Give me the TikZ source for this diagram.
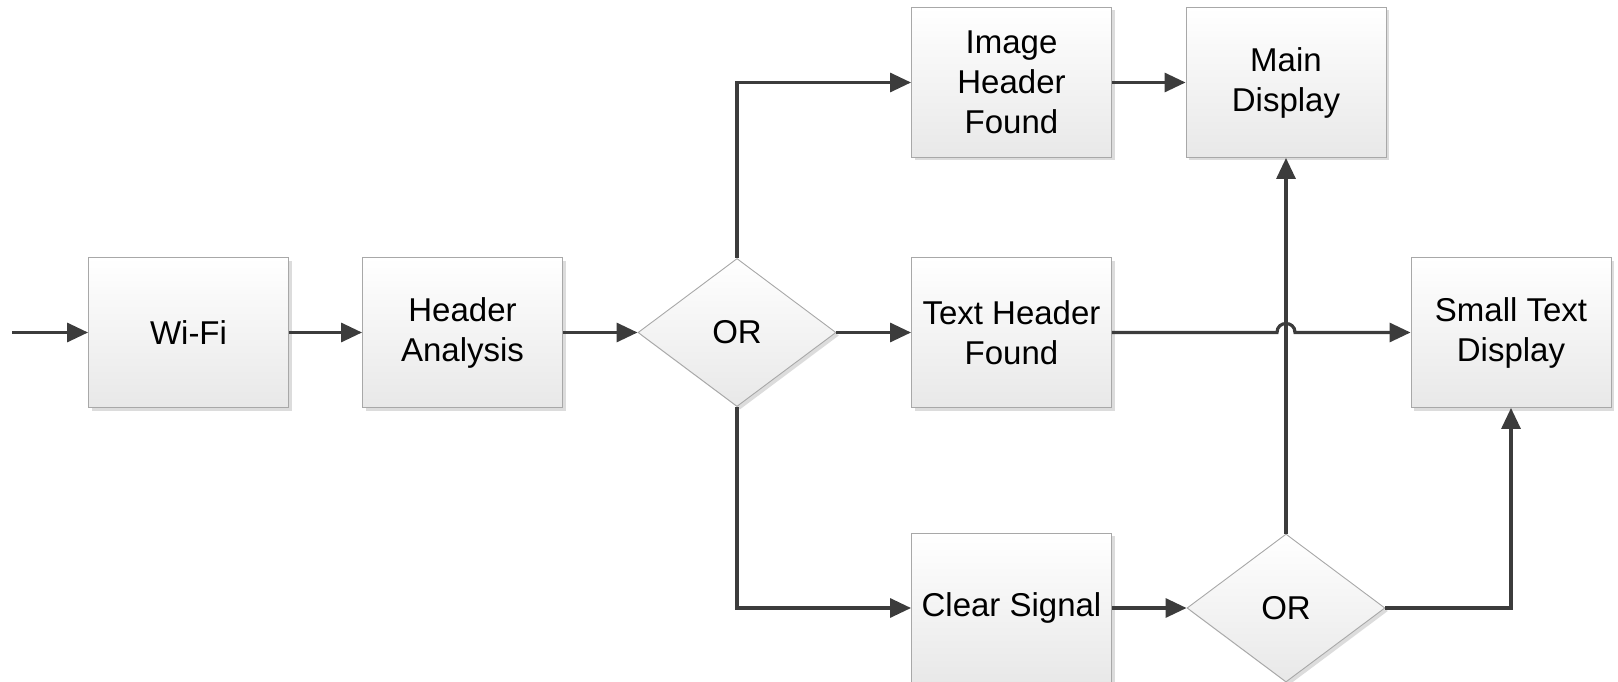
\documentclass[tikz,border=0pt]{standalone}
\usepackage{fontspec}
\setmainfont{Liberation Sans}
\usetikzlibrary{shapes.geometric,arrows.meta,shadows}
\definecolor{wire}{HTML}{3C3C3C}
\definecolor{rim}{HTML}{A8A8A8}
\begin{document}
\begin{tikzpicture}[x=1pt,y=-1pt,
  block/.style={draw=rim, line width=0.9pt, top color=white, bottom color=black!9,
    minimum width=200pt, minimum height=150pt, inner sep=0pt, align=center,
    font=\fontsize{33}{40}\selectfont,
    drop shadow={shadow xshift=3pt, shadow yshift=-3pt, fill=black!30, opacity=0.45}},
  gate/.style={diamond, draw=rim, line width=0.9pt, top color=white, bottom color=black!9,
    minimum width=198pt, minimum height=148pt, inner sep=0pt, aspect=1.34,
    font=\fontsize{33}{40}\selectfont,
    drop shadow={shadow xshift=3pt, shadow yshift=-3pt, fill=black!30, opacity=0.45}},
  flow/.style={draw=wire, line width=3.2pt, -{Triangle[length=21pt,width=19pt]}}]
\useasboundingbox (0,0) rectangle (1618,682);

% blocks
\node[block] (wifi) at (188.5,332.5) {Wi-Fi};
\node[block] (ha)   at (462.5,332.5) {Header\\Analysis};
\node[gate]  (or1)  at (737,332.5) {OR};
\node[block] (ih)   at (1011.5,82.5) {Image\\Header\\Found};
\node[block] (md)   at (1286,82.5) {Main\\Display};
\node[block] (th)   at (1011.5,332.5) {Text Header\\Found};
\node[block] (st)   at (1511,332.5) {Small Text\\Display};
\node[block] (cs)   at (1011.5,608) {Clear Signal};
\node[gate]  (or2)  at (1286,608) {OR};

% input and jump points
\coordinate (in) at (12,332.5);
\coordinate (jl) at (1277,332.5);
\coordinate (jr) at (1295,332.5);

% connectors
\draw[flow] (in) -- (wifi.west);
\draw[flow] (wifi.east) -- (ha.west);
\draw[flow] (ha.east) -- (or1.west);
\draw[flow] (or1.north) |- (ih.west);
\draw[flow] (or1.east) -- (th.west);
\draw[flow] (or1.south) |- (cs.west);
\draw[flow] (ih.east) -- (md.west);
\draw[flow] (cs.east) -- (or2.west);
\draw[flow] (or2.north) -- (md.south);
\draw[flow] (or2.east) -| (st.south);
\draw[flow] (th.east) -- (jl) .. controls (1277,320.5) and (1295,320.5) .. (jr) -- (st.west);
\end{tikzpicture}
\end{document}
